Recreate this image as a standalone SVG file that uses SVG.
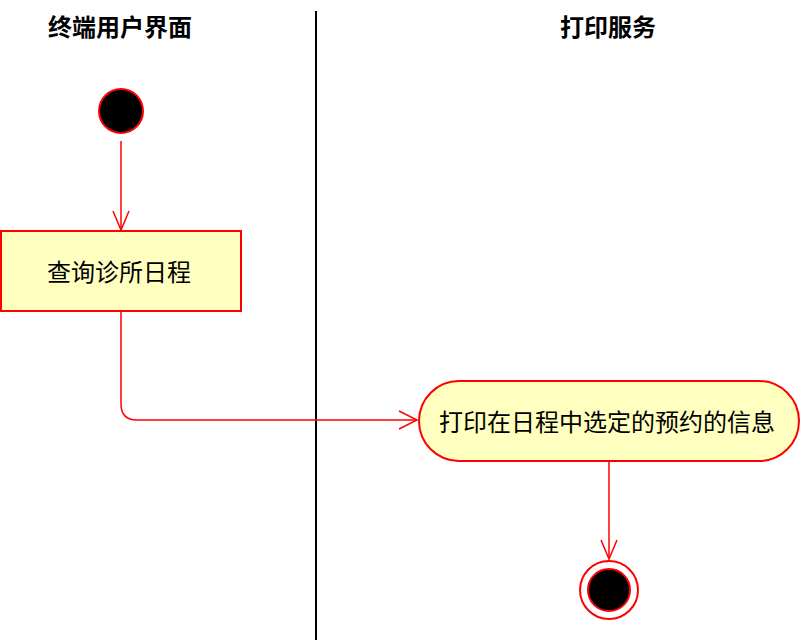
<svg xmlns="http://www.w3.org/2000/svg" width="800" height="644" viewBox="0 0 800 644">
  <style>
    .lane-title { font-family: "Noto Sans CJK SC", "Liberation Sans", sans-serif; font-size: 24px; font-weight: bold; fill: #000; text-anchor: middle; }
    .label { font-family: "Noto Sans CJK SC", "Liberation Sans", sans-serif; font-size: 24px; fill: #000; text-anchor: middle; dominant-baseline: central; }
    .action { fill: #ffffc0; stroke: #ff0000; stroke-width: 2; }
    .flow { fill: none; stroke: #ff0000; stroke-width: 1.5; }
    .head { fill: none; stroke: #ff0000; stroke-width: 1.5; stroke-linejoin: miter; }
  </style>
  <rect width="800" height="644" fill="#ffffff"/>

  <!-- swimlanes -->
  <g id="lanes">
    <line x1="316" y1="11" x2="316" y2="640" stroke="#000" stroke-width="2"/>
    <text class="lane-title" x="120" y="36">终端用户界面</text>
    <text class="lane-title" x="608" y="36">打印服务</text>
  </g>

  <!-- connectors -->
  <g id="connectors">
    <line class="flow" x1="121" y1="141" x2="121" y2="230"/>
    <polyline class="head" points="113,211 121,230 129,211"/>
    <path class="flow" d="M121,311 V404 Q121,420 137,420 H417"/>
    <polyline class="head" points="399,411 417,420 399,429"/>
    <line class="flow" x1="609" y1="461" x2="609" y2="559"/>
    <polyline class="head" points="601,540 609,559 617,540"/>
  </g>

  <g id="start">
    <circle cx="121" cy="111" r="22" fill="#000" stroke="#ff0000" stroke-width="2"/>
  </g>

  <g id="query-schedule">
    <rect class="action" x="1" y="231" width="240" height="80"/>
    <text class="label" x="119" y="270">查询诊所日程</text>
  </g>

  <g id="print-appointment">
    <rect class="action" x="419" y="381" width="380" height="80" rx="40" ry="40"/>
    <text class="label" x="607" y="420">打印在日程中选定的预约的信息</text>
  </g>

  <g id="end">
    <circle cx="609" cy="590" r="29" fill="#fff" stroke="#ff0000" stroke-width="2"/>
    <circle cx="609" cy="590" r="21" fill="#000" stroke="#ff0000" stroke-width="2"/>
  </g>
</svg>
